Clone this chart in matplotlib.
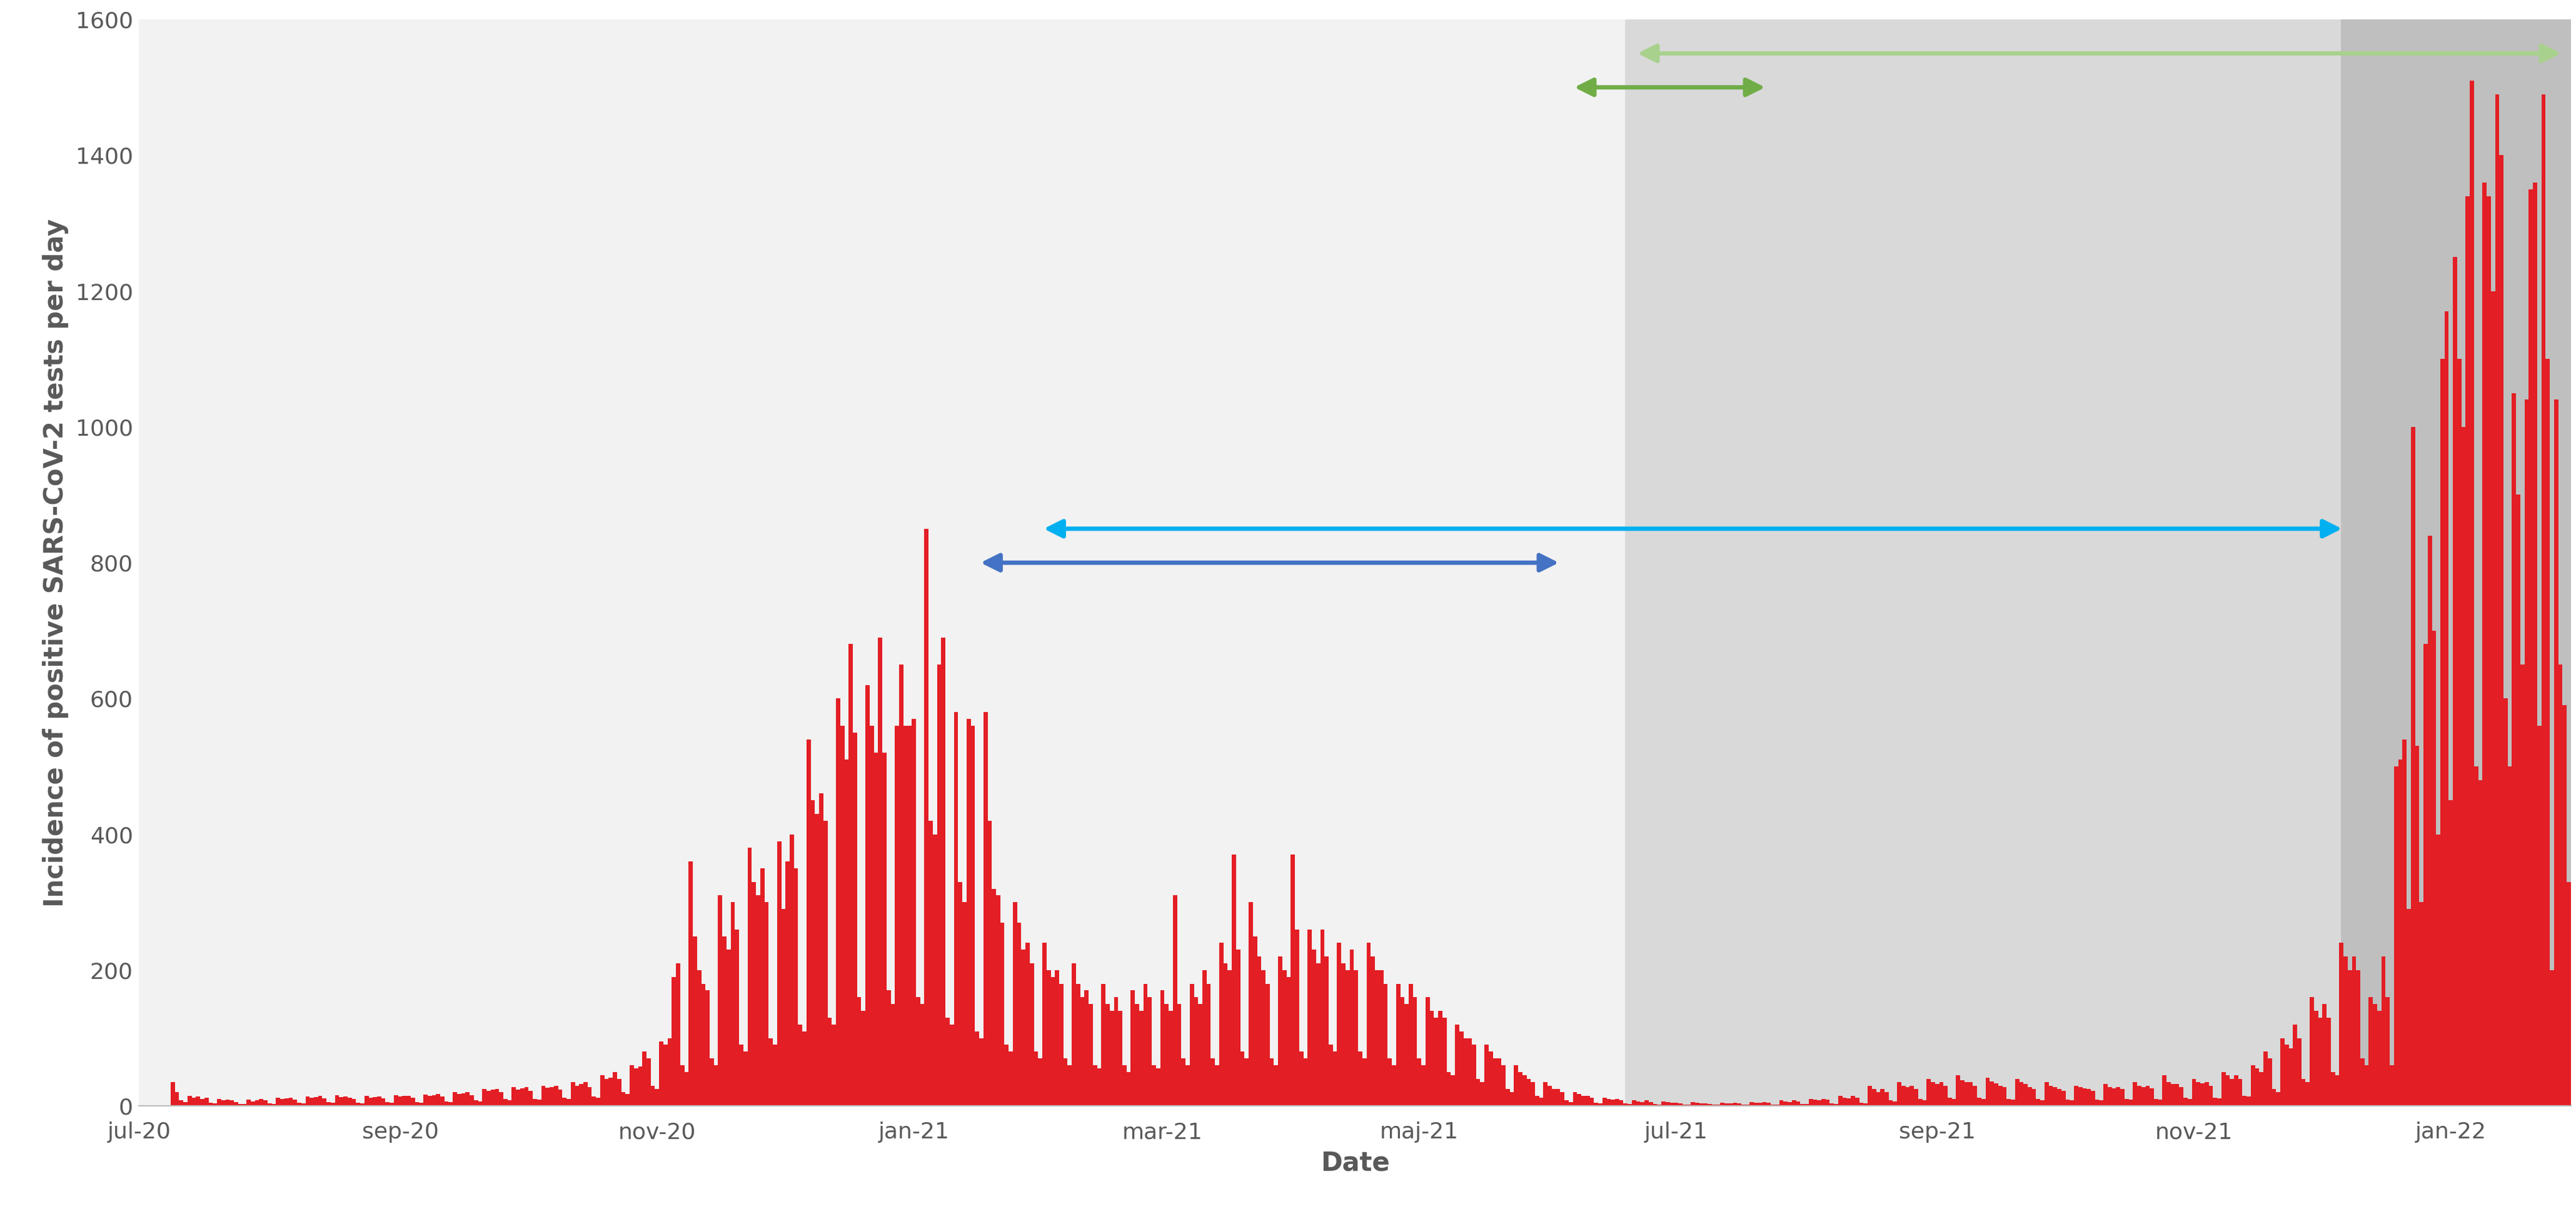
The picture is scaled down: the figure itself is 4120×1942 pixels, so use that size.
import numpy as np
import pandas as pd
import matplotlib.pyplot as plt
import matplotlib.dates as mdates

# daily positive tests, one row per week, starting Thu 2020-07-09
weeks = [
    [35,20,8,6,15,12,14], [10,12,5,4,10,8,9], [8,6,3,3,9,7,8], [10,8,4,3,12,10,11],
    [12,9,5,4,14,12,13], [15,11,6,5,16,13,14], [12,10,5,4,15,12,13], [14,11,6,5,16,14,15],
    [15,12,6,5,17,15,16], [18,14,7,6,20,18,19], [20,16,8,7,25,22,24], [25,20,10,8,28,24,26],
    [28,22,10,9,30,27,28], [30,24,12,10,35,30,32], [35,28,14,12,45,40,42], [50,40,20,18,60,55,58],
    [80,70,30,25,95,90,100], [190,210,60,50,360,250,200], [180,170,70,60,310,250,230],
    [300,260,90,80,380,330,310], [350,300,100,90,390,290,360], [400,350,120,110,540,450,430],
    [460,420,130,120,600,560,510], [680,550,160,140,620,560,520], [690,520,170,150,560,650,560],
    [560,570,160,150,850,420,400], [650,690,130,120,580,330,300], [570,560,110,100,580,420,320],
    [310,270,90,80,300,270,230], [240,210,80,70,240,200,190], [200,180,70,60,210,180,160],
    [170,150,60,55,180,150,140], [160,140,60,50,170,150,140], [180,160,60,55,170,150,140],
    [310,150,70,60,180,160,150], [200,180,70,60,240,210,200], [370,230,80,70,300,250,220],
    [200,180,70,60,220,200,190], [370,260,80,70,260,230,210], [260,220,90,80,240,210,200],
    [230,200,80,70,240,220,200], [200,180,70,60,180,160,150], [180,160,70,60,160,140,130],
    [140,130,50,45,120,110,100], [100,90,40,35,90,80,70], [70,60,25,20,60,50,45],
    [40,35,15,12,35,30,25], [25,20,8,6,20,18,15], [15,12,5,4,12,10,9], [10,8,4,3,8,7,6],
    [8,6,3,2,7,6,5], [5,4,2,2,6,5,4], [4,3,2,2,5,4,4], [5,4,2,2,6,5,5], [6,5,2,2,8,7,6],
    [8,7,3,3,10,9,8], [10,9,4,3,15,12,11], [15,12,5,4,30,25,20], [25,20,8,7,35,30,28],
    [30,25,10,8,40,35,32], [35,30,12,10,45,38,35], [35,30,12,10,42,36,33], [30,28,10,9,40,35,32],
    [28,25,10,8,35,30,28], [25,22,9,8,30,28,26], [25,22,9,8,32,28,26], [28,25,10,9,35,30,28],
    [30,26,10,9,45,35,32], [32,28,12,10,40,35,33], [35,30,12,11,50,45,40], [45,40,15,14,60,55,50],
    [80,70,25,20,100,90,85], [120,100,40,35,160,140,130], [150,130,50,45,240,220,200],
    [220,200,70,60,160,150,140], [220,160,60,500,510,540,290], [1000,530,300,680,840,700,400],
    [1100,1170,450,1250,1100,1000,1340], [1510,500,480,1360,1340,1200,1490],
    [1400,600,500,1050,900,650,1040], [1350,1360,560,1490,1100,200,1040], [650,590,330],
]
cases = [v for w in weeks for v in w]
dates = pd.date_range("2020-07-09", periods=len(cases), freq="D")

tick_dates = pd.to_datetime(["2020-07-01","2020-09-01","2020-11-01","2021-01-01","2021-03-01",
                             "2021-05-01","2021-07-01","2021-09-01","2021-11-01","2022-01-01"])
tick_labels = ["jul-20","sep-20","nov-20","jan-21","mar-21","maj-21","jul-21","sep-21","nov-21","jan-22"]

# arrows: (start, end, y, colour)
arrows = [
    ("2021-06-21", "2022-01-28", 1550, "#a9d18e"),
    ("2021-06-06", "2021-07-23", 1500, "#70ad47"),
    ("2021-01-31", "2021-12-07", 850, "#00b0f0"),
    ("2021-01-16", "2021-06-04", 800, "#4472c4"),
]

fig = plt.figure(figsize=(20.6, 9.71), dpi=200)
ax = fig.add_axes([0.054, 0.089, 0.944, 0.895])
start, end = dates[0] - pd.Timedelta(days=0.5), dates[-1] + pd.Timedelta(days=0.5)
ax.set_facecolor("#f2f2f2")
ax.axvspan(pd.Timestamp("2021-06-19"), end, color="#d9d9d9", zorder=0)
ax.axvspan(pd.Timestamp("2021-12-06"), end, color="#bfbfbf", zorder=0)

ax.bar(dates, cases, width=1.0, color="#e31e24", zorder=2)

for s, e, y, c in arrows:
    ax.annotate("", xy=(pd.Timestamp(e), y), xytext=(pd.Timestamp(s), y),
                arrowprops=dict(arrowstyle="<|-|>", color=c, lw=2.5, mutation_scale=22), zorder=3)

ax.set_xlim(start, end)
ax.set_ylim(0, 1600)
ax.set_yticks(range(0, 1601, 200))
ax.set_xticks(tick_dates)
ax.set_xticklabels(tick_labels)
ax.tick_params(labelsize=13, colors="#595959", length=0)
ax.tick_params(axis="x", pad=9)
for s in ax.spines.values():
    s.set_visible(False)
ax.spines["bottom"].set_visible(True)
ax.spines["bottom"].set_color("#bfbfbf")
ax.set_xlabel("Date", fontsize=15, fontweight="bold", color="#595959")
ax.set_ylabel("Incidence of positive SARS-CoV-2 tests per day", fontsize=15, fontweight="bold", color="#595959")

fig.savefig("out.png", dpi=200)
